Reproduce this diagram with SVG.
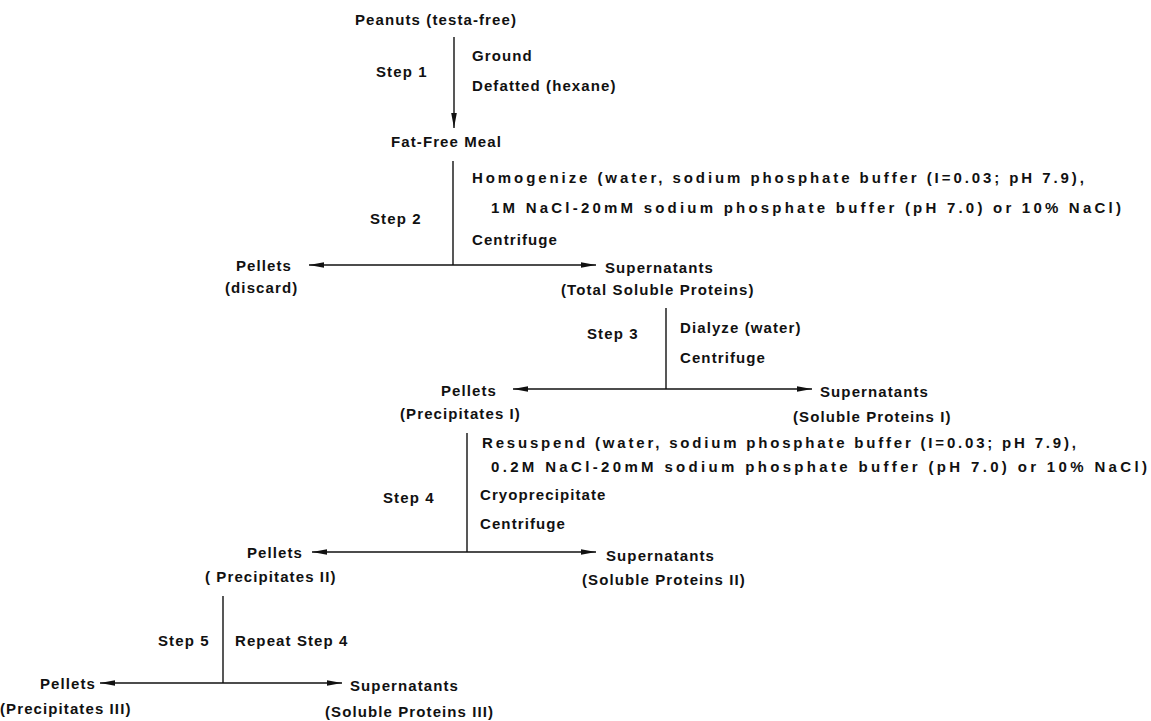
<svg xmlns="http://www.w3.org/2000/svg" width="1151" height="721" viewBox="0 0 1151 721">
<defs>
<style>
text{font-family:"Liberation Sans",Arial,sans-serif;font-weight:bold;font-size:15px;fill:#111;letter-spacing:1.1px}
.ln{stroke:#111;stroke-width:1.4;fill:none}
</style>
<marker id="ah" markerUnits="userSpaceOnUse" markerWidth="16" markerHeight="8" refX="15" refY="3.5" orient="auto">
<path d="M0,0.7 L15,3.5 L0,6.3 Z" fill="#111"/>
</marker>
</defs>
<rect width="1151" height="721" fill="#fff"/>

<g id="connectors">
<line class="ln" x1="454" y1="37" x2="454" y2="128" marker-end="url(#ah)"/>
<line class="ln" x1="453" y1="161" x2="453" y2="265"/>
<line class="ln" x1="453" y1="265" x2="309" y2="265" marker-end="url(#ah)"/>
<line class="ln" x1="453" y1="265" x2="596" y2="265" marker-end="url(#ah)"/>
<line class="ln" x1="666" y1="308" x2="666" y2="389"/>
<line class="ln" x1="666" y1="389" x2="513" y2="389" marker-end="url(#ah)"/>
<line class="ln" x1="666" y1="389" x2="812" y2="389" marker-end="url(#ah)"/>
<line class="ln" x1="467" y1="433" x2="467" y2="552"/>
<line class="ln" x1="467" y1="552" x2="312" y2="552" marker-end="url(#ah)"/>
<line class="ln" x1="467" y1="552" x2="596" y2="552" marker-end="url(#ah)"/>
<line class="ln" x1="223" y1="596" x2="223" y2="683"/>
<line class="ln" x1="223" y1="683" x2="100" y2="683" marker-end="url(#ah)"/>
<line class="ln" x1="223" y1="683" x2="342" y2="683" marker-end="url(#ah)"/>
</g>

<g id="step-labels">
<g id="step1-label"><text x="376" y="77">Step 1</text><text x="472" y="61">Ground</text><text x="472" y="91">Defatted (hexane)</text></g>
<g id="step2-label"><text x="370" y="224">Step 2</text><text x="472" y="183" textLength="613">Homogenize (water, sodium phosphate buffer (I=0.03; pH 7.9),</text><text x="491" y="213" textLength="631">1M NaCl-20mM sodium phosphate buffer (pH 7.0) or 10% NaCl)</text><text x="472" y="245">Centrifuge</text></g>
<g id="step3-label"><text x="587" y="339">Step 3</text><text x="680" y="333">Dialyze (water)</text><text x="680" y="363">Centrifuge</text></g>
<g id="step4-label"><text x="383" y="503">Step 4</text><text x="482" y="448" textLength="595">Resuspend (water, sodium phosphate buffer (I=0.03; pH 7.9),</text><text x="491" y="472" textLength="657">0.2M NaCl-20mM sodium phosphate buffer (pH 7.0) or 10% NaCl)</text><text x="480" y="500">Cryoprecipitate</text><text x="480" y="529">Centrifuge</text></g>
<g id="step5-label"><text x="158" y="646">Step 5</text><text x="235" y="646">Repeat Step 4</text></g>
</g>

<g id="peanuts"><text x="355" y="25">Peanuts (testa-free)</text></g>
<g id="fat-free-meal"><text x="391" y="147">Fat-Free Meal</text></g>
<g id="pellets-discard"><text x="236" y="271">Pellets</text><text x="225" y="293">(discard)</text></g>
<g id="supernatants-total"><text x="605" y="273">Supernatants</text><text x="561" y="295">(Total Soluble Proteins)</text></g>
<g id="pellets-precip-1"><text x="441" y="396">Pellets</text><text x="400" y="419">(Precipitates I)</text></g>
<g id="supernatants-1"><text x="820" y="397">Supernatants</text><text x="793" y="422">(Soluble Proteins I)</text></g>
<g id="pellets-precip-2"><text x="247" y="558">Pellets</text><text x="205" y="582">( Precipitates II)</text></g>
<g id="supernatants-2"><text x="606" y="561">Supernatants</text><text x="582" y="585">(Soluble Proteins II)</text></g>
<g id="pellets-precip-3"><text x="40" y="689">Pellets</text><text x="0" y="714">(Precipitates III)</text></g>
<g id="supernatants-3"><text x="350" y="691">Supernatants</text><text x="325" y="717">(Soluble Proteins III)</text></g>
</svg>
